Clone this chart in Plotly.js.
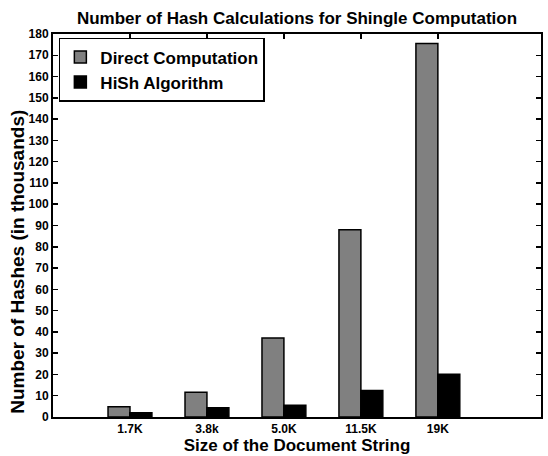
<!DOCTYPE html>
<html>
<head>
<meta charset="utf-8">
<script src="https://cdn.plot.ly/plotly-3.0.1.min.js"></script>
<style>html,body{margin:0;padding:0;background:#fff;}#chart{width:548px;height:456px;}</style>
</head>
<body>
<div id="chart"></div>
<script>
var categories = ["1.7K", "3.8k", "5.0K", "11.5K", "19K"];
var directValues = [4.8, 11.6, 37.1, 88, 175.5];
var hishValues = [2.0, 4.4, 5.5, 12.4, 20.1];
var yTicks = [0,10,20,30,40,50,60,70,80,90,100,110,120,130,140,150,160,170,180];

var F = "Liberation Sans, Arial, Helvetica, sans-serif";

var traces = [
  {type: "bar", name: "Direct Computation", x: categories, y: directValues,
   marker: {color: "#808080", line: {color: "#000", width: 1.5}}},
  {type: "bar", name: "HiSh Algorithm", x: categories, y: hishValues,
   marker: {color: "#000000", line: {color: "#000", width: 1.5}}}
];

var layout = {
  width: 548, height: 456,
  margin: {l: 53, r: 7, t: 34, b: 39},
  paper_bgcolor: "#fff", plot_bgcolor: "#fff",
  barmode: "group", bargap: 0.43, bargroupgap: 0,
  font: {family: F, color: "#000", weight: "bold"},
  title: {text: "Number of Hash Calculations for Shingle Computation",
          font: {family: F, size: 17, weight: "bold", color: "#000"},
          x: 0.542, xanchor: "center", y: 0.96, yanchor: "middle"},
  xaxis: {type: "category", range: [-1, 5.34], showgrid: false, zeroline: false,
          showline: true, linecolor: "#000", linewidth: 2, mirror: "ticks",
          ticks: "inside", ticklen: 5, tickwidth: 1.5, tickcolor: "#000",
          tickfont: {family: F, size: 12, weight: "bold"},
          title: {text: "Size of the Document String", font: {family: F, size: 17, weight: "bold"}, standoff: 1}},
  yaxis: {range: [0, 180], tickvals: yTicks, showgrid: false, zeroline: false,
          showline: true, linecolor: "#000", linewidth: 2, mirror: "ticks",
          ticks: "inside", ticklen: 5, tickwidth: 1.5, tickcolor: "#000",
          tickfont: {family: F, size: 12, weight: "bold"}},
  annotations: [{text: "Number of Hashes (in thousands)", textangle: -90,
                 xref: "paper", yref: "paper", x: -0.072, y: 0.405,
                 xanchor: "center", yanchor: "middle", showarrow: false,
                 font: {family: F, size: 19, weight: "bold", color: "#000"}}],
  showlegend: true,
  legend: {x: 0.012, y: 0.99, xanchor: "left", yanchor: "top",
           bgcolor: "#fff", bordercolor: "#000", borderwidth: 1.5,
           font: {family: F, size: 17, weight: "bold", color: "#000"},
           tracegroupgap: 0, itemwidth: 30}
};

Plotly.newPlot("chart", traces, layout, {displayModeBar: false, staticPlot: true});
</script>
</body>
</html>
